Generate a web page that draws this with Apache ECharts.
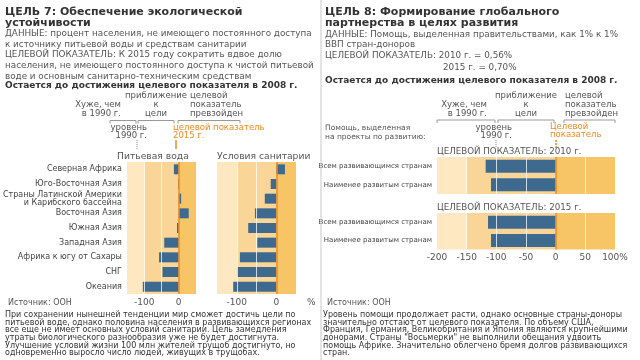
<!DOCTYPE html>
<html><head><meta charset="utf-8">
<script src="https://cdn.jsdelivr.net/npm/echarts@6/dist/echarts.min.js"></script>
<style>html,body{margin:0;padding:0;background:#fff}#c{width:640px;height:360px}</style>
</head><body><div id="c"></div>
<script>
// ---- data ----
const regions = ['Северная Африка','Юго-Восточная Азия','Страны Латинской Америки\nи Карибского бассейна','Восточная Азия','Южная Азия','Западная Азия','Африка к югу от Сахары','СНГ','Океания'];
const water = [-14, -2, 7, 29, -5, -42, -57, -47, -104];
const sanitation = [22, -14, -29, -54, -71, -48, -92, -99, -109];
const aidCategories = ['Всем развивающимся странам','Наименее развитым странам'];
const aid2010 = [-118, -109];
const aid2015 = [-114, -109];
const leftTickLabels = [-100, 0];
const rightTickLabels = [-200, -150, -100, -50, 0, 50, 100];

// ---- styles ----
const FONT = '"DejaVu Sans", Verdana, sans-serif';
const BAR = '#3f6a90';
const C_LIGHT = '#fde8c2', C_MID = '#f9d597', C_DARK = '#f7c565';
const ORANGE = '#ee8a22';
const GRAY = '#555';

function T(x, y, text, o) {
  o = o || {};
  const size = o.size || 9;
  return {type:'text', x:x, y:y, silent:true, z:10, style:{
    text:text, fill:o.color||GRAY,
    font:(o.bold?'bold ':'')+size+'px '+FONT,
    textAlign:o.align||'left', align:o.align||'left',
    textVerticalAlign:o.va||'middle', verticalAlign:o.va||'middle',
    lineHeight:o.lh||size+2
  }};
}
function L(x1,y1,x2,y2,o){
  o=o||{};
  return {type:'line', silent:true, z:10, shape:{x1:x1,y1:y1,x2:x2,y2:y2},
    style:{stroke:o.color||'#999', lineWidth:o.w||1, lineDash:o.dash||null}};
}
function bracket(x1,x2,y){
  return [L(x1,y,x2,y), L(x1,y,x1,y+3), L(x2,y,x2,y+3)];
}

const grids = [
  {left:117, top:162, width:79, height:132},
  {left:217, top:162, width:79, height:132},
  {left:437, top:157, width:178, height:37},
  {left:437, top:213, width:178, height:36.5}
];

function xAx(i, min, max, fmt, show){
  return {type:'value', gridIndex:i, min:min, max:max, interval:50,
    splitLine:{show:false}, axisLine:{show:false}, axisTick:{show:false},
    axisLabel:{show:show, color:GRAY, fontSize:9, fontFamily:FONT, margin:4, formatter:fmt}};
}
function yAx(i, cats, show, size){
  return {type:'category', gridIndex:i, data:cats, inverse:true,
    axisLine:{show:false}, axisTick:{show:false}, splitLine:{show:false},
    axisLabel:{show:show, color:'#444', fontSize:size, fontFamily:FONT, margin:5, lineHeight:8}};
}
function barSeries(i, data, bands, whites, bw){
  return {type:'bar', xAxisIndex:i, yAxisIndex:i, data:data, barWidth:bw,
    itemStyle:{color:BAR}, silent:true, animation:false, z:2,
    markArea:{silent:true, z:1, data:bands.map(b=>[{xAxis:b[0], itemStyle:{color:b[2]}},{xAxis:b[1]}])},
    markLine:{silent:true, z:5, symbol:'none', label:{show:false},
      data: whites.map(v=>({xAxis:v, lineStyle:{color:'rgba(255,255,255,0.75)', width:1, type:'solid'}}))
        .concat([{xAxis:0, lineStyle:{color:ORANGE, width:1.5, type:'solid'}}])}
  };
}
const leftFmt = v => leftTickLabels.indexOf(v) >= 0 ? String(v) : '';
const rightFmt = v => rightTickLabels.indexOf(v) >= 0 ? (v === 100 ? '100%' : String(v)) : '';
const leftBands = [[-150,-100,C_LIGHT],[-100,0,C_MID],[0,50,C_DARK]];
const rightBands = [[-200,-150,C_LIGHT],[-150,0,C_MID],[0,100,C_DARK]];

const graphics = [
  L(321,0,321,360,{color:'#c8c8c8'}),
  // left header
  T(5, 6.5, 'ЦЕЛЬ 7: Обеспечение экологической\nустойчивости', {bold:true, size:11, color:'#333', va:'top', lh:11}),
  T(5, 28.3, 'ДАННЫЕ: процент населения, не имеющего постоянного доступа\nк источнику питьевой воды и средствам санитарии\nЦЕЛЕВОЙ ПОКАЗАТЕЛЬ: К 2015 году сократить вдвое долю\nнаселения, не имеющего постоянного доступа к чистой питьевой\nводе и основным санитарно-техническим средствам', {size:8.8, va:'top', lh:10.75}),
  T(5, 85.7, 'Остается до достижения целевого показателя в 2008 г.', {bold:true, size:9, color:'#333'}),
  // left brackets
  T(121, 100.3, 'Хуже, чем\nв 1990 г.', {size:8.5, align:'right', va:'top', lh:9.3}),
  T(156, 91, 'приближение\nк\nцели', {size:8.5, align:'center', va:'top', lh:9.3}),
  T(190, 91, 'целевой\nпоказатель\nпревзойден', {size:8.5, va:'top', lh:9.3}),
  ...bracket(110,136,120.5), ...bracket(138,174,120.5), ...bracket(178,240,120.5),
  T(147, 124.5, 'уровень\n1990 г.', {size:8.5, align:'right', va:'top', lh:7.5}),
  T(173, 124.5, 'целевой показатель\n2015 г.', {size:8.5, va:'top', lh:7.5, color:ORANGE}),
  L(137,140,137,149,{color:'#888', dash:[1,1]}),
  L(176,140,176,149,{color:ORANGE, w:1.5}),
  T(117, 157, 'Питьевая вода', {size:9.2}),
  T(217, 157, 'Условия санитарии', {size:9.2}),
  T(8, 303, 'Источник: ООН', {size:8}),
  T(307, 303, '%', {size:9}),
  T(5, 311.2, 'При сохранении нынешней тенденции мир сможет достичь цели по\nпитьевой воде, однако половина населения в развивающихся регионах\nвсе еще не имеет основных условий санитарии. Цель замедления\nутраты биологического разнообразия уже не будет достигнута.\nУлучшение условий жизни 100 млн жителей трущоб достигнуто, но\nодновременно выросло число людей, живущих в трущобах.', {size:8, va:'top', lh:7.67, color:'#333'}),
  // right header
  T(325, 6.5, 'ЦЕЛЬ 8: Формирование глобального\nпартнерства в целях развития', {bold:true, size:11, color:'#333', va:'top', lh:11}),
  T(325, 34.3, 'ДАННЫЕ: Помощь, выделенная правительствами, как 1% к 1%', {size:8.8}),
  T(325, 44.5, 'ВВП стран-доноров', {size:8.8}),
  T(325, 56, 'ЦЕЛЕВОЙ ПОКАЗАТЕЛЬ: 2010 г. = 0,56%', {size:8.8}),
  T(443, 68, '2015 г. = 0,70%', {size:8.8}),
  T(325, 81, 'Остается до достижения целевого показателя в 2008 г.', {bold:true, size:9, color:'#333'}),
  T(487, 100.3, 'Хуже, чем\nв 1990 г.', {size:8.5, align:'right', va:'top', lh:9.3}),
  T(526, 91, 'приближение\nк\nцели', {size:8.5, align:'center', va:'top', lh:9.3}),
  T(565, 91, 'целевой\nпоказатель\nпревзойден', {size:8.5, va:'top', lh:9.3}),
  ...bracket(437,495,120), ...bracket(498,554,120), ...bracket(564,615,120),
  T(512, 124.5, 'уровень\n1990 г.', {size:8.5, align:'right', va:'top', lh:7.5}),
  T(550, 123.5, 'Целевой\nпоказатель', {size:8.5, va:'top', lh:7.5, color:ORANGE}),
  L(496,140,496,148,{color:'#888', dash:[1,1]}),
  L(556,140,556,148,{color:ORANGE, w:1.5, dash:[2,1]}),
  T(325, 133, 'Помощь, выделенная\nна проекты по развитию:', {size:7.5, va:'middle', lh:9}),
  T(437, 152, 'ЦЕЛЕВОЙ ПОКАЗАТЕЛЬ: 2010 г.', {size:8.7}),
  T(437, 208, 'ЦЕЛЕВОЙ ПОКАЗАТЕЛЬ: 2015 г.', {size:8.7}),
  T(327, 303, 'Источник: ООН', {size:8}),
  T(323, 311.2, 'Уровень помощи продолжает расти, однако основные страны-доноры\nзначительно отстают от целевого показателя. По объему США,\nФранция, Германия, Великобритания и Япония являются крупнейшими\nдонорами. Страны "Восьмерки" не выполнили обещания удвоить\nпомощь Африке. Значительно облегчено бремя долгов развивающихся\nстран.', {size:8, va:'top', lh:7.67, color:'#333'})
];

const chart = echarts.init(document.getElementById('c'), null, {renderer:'canvas'});
chart.setOption({
  animation:false,
  backgroundColor:'#fff',
  textStyle:{fontFamily:FONT},
  grid: grids,
  xAxis:[xAx(0,-150,50,leftFmt,true), xAx(1,-150,50,leftFmt,true), xAx(2,-200,100,rightFmt,false), xAx(3,-200,100,rightFmt,true)],
  yAxis:[yAx(0,regions,true,8), yAx(1,regions,false,8), yAx(2,aidCategories,true,7), yAx(3,aidCategories,true,7)],
  series:[
    barSeries(0, water, leftBands, [-100,-50], 10),
    barSeries(1, sanitation, leftBands, [-100,-50], 10),
    barSeries(2, aid2010, rightBands, [-150,-100,-50,50], 13),
    barSeries(3, aid2015, rightBands, [-150,-100,-50,50], 13)
  ],
  graphic: graphics
});
</script></body></html>
